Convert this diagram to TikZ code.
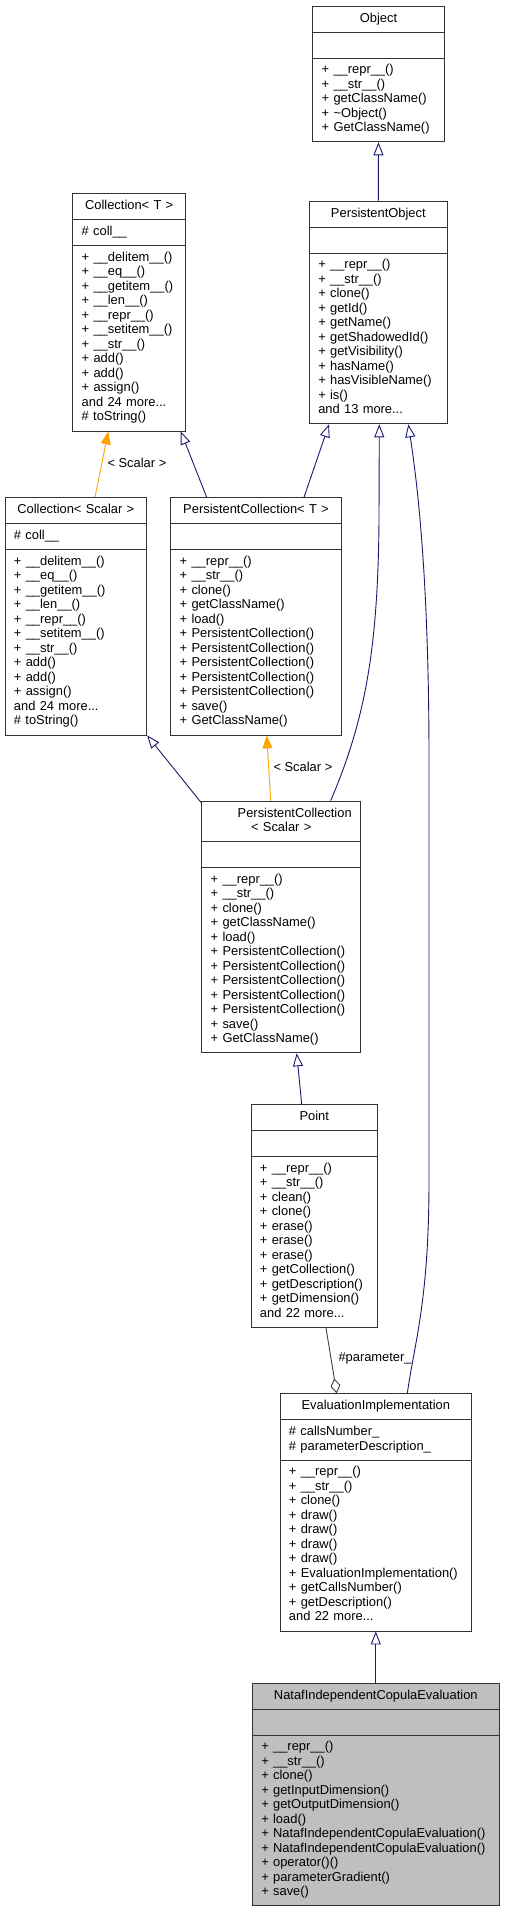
\documentclass[tikz,border=0pt]{standalone}
\usepackage{fontspec}
\setmainfont{Liberation Sans}
\usepackage{tikz}
\usetikzlibrary{arrows.meta,shapes.multipart}

\definecolor{navyline}{HTML}{191970}
\definecolor{tmplline}{HTML}{FFA500}
\definecolor{aggrline}{HTML}{404040}

\newcommand{\classfont}{\fontsize{12.9}{14.5}\selectfont}
\newcommand{\cpart}[1]{\strut#1\strut}
\newcommand{\ctitle}[1]{\hspace*{\fill}#1\hspace*{\fill}}
\newcommand{\dund}[1]{\_\_#1\_\_()}

\tikzset{
    cls/.style={rectangle split, rectangle split parts=3, draw=black!80,
        line width=0.9pt, fill=white, text width=#1, align=left, inner xsep=9pt,
        inner ysep=5.25pt, anchor=north, font=\classfont},
    inherit/.style={draw=navyline, line width=0.9pt, arrows={Triangle[open,length=13pt,width=10pt]-}},
    tmpl/.style={draw=tmplline, line width=0.9pt, arrows={Triangle[length=13pt,width=10pt]-}},
    aggr/.style={draw=aggrline, line width=0.9pt, arrows={-Diamond[open,length=15pt,width=10pt]}},
    lbl/.style={anchor=west, inner sep=0pt, font=\classfont}
}

\begin{document}
\begin{tikzpicture}[x=1pt,y=-1pt]
    \useasboundingbox (0,0) rectangle (504,1912);

    % Draw the base classes
    \node[cls=113.6pt] (obj) at (378.5,5.7) {\cpart{\ctitle{Object}}
        \nodepart{two}\cpart{}
        \nodepart{three}\cpart{+ \dund{repr}\\+ \dund{str}\\+ getClassName()\\+ \textasciitilde Object()\\+ GetClassName()}};
    \node[cls=120pt] (pobj) at (378.3,200.7) {\cpart{\ctitle{PersistentObject}}
        \nodepart{two}\cpart{}
        \nodepart{three}\cpart{+ \dund{repr}\\+ \dund{str}\\+ clone()\\+ getId()\\+ getName()\\+ getShadowedId()\\+ getVisibility()\\+ hasName()\\+ hasVisibleName()\\+ is()\\and 13 more...}};
    \node[cls=95pt] (colT) at (129.2,193.3) {\cpart{\ctitle{Collection< T >}}
        \nodepart{two}\cpart{\# coll\_\_}
        \nodepart{three}\cpart{+ \dund{delitem}\\+ \dund{eq}\\+ \dund{getitem}\\+ \dund{len}\\+ \dund{repr}\\+ \dund{setitem}\\+ \dund{str}\\+ add()\\+ add()\\+ assign()\\and 24 more...\\\# toString()}};

    % Draw the collections
    \node[cls=123.7pt] (colS) at (75.8,497.3) {\cpart{\ctitle{Collection< Scalar >}}
        \nodepart{two}\cpart{\# coll\_\_}
        \nodepart{three}\cpart{+ \dund{delitem}\\+ \dund{eq}\\+ \dund{getitem}\\+ \dund{len}\\+ \dund{repr}\\+ \dund{setitem}\\+ \dund{str}\\+ add()\\+ add()\\+ assign()\\and 24 more...\\\# toString()}};
    \node[cls=152.6pt] (pcolT) at (256,497.3) {\cpart{\ctitle{PersistentCollection< T >}}
        \nodepart{two}\cpart{}
        \nodepart{three}\cpart{+ \dund{repr}\\+ \dund{str}\\+ clone()\\+ getClassName()\\+ load()\\+ PersistentCollection()\\+ PersistentCollection()\\+ PersistentCollection()\\+ PersistentCollection()\\+ PersistentCollection()\\+ save()\\+ GetClassName()}};
    \node[cls=141pt] (pcolS) at (281.2,800.7) {\cpart{\ctitle{PersistentCollection}\\\ctitle{< Scalar >}}
        \nodepart{two}\cpart{}
        \nodepart{three}\cpart{+ \dund{repr}\\+ \dund{str}\\+ clone()\\+ getClassName()\\+ load()\\+ PersistentCollection()\\+ PersistentCollection()\\+ PersistentCollection()\\+ PersistentCollection()\\+ PersistentCollection()\\+ save()\\+ GetClassName()}};

    % Draw the derived classes
    \node[cls=108.7pt] (point) at (314.3,1104.3) {\cpart{\ctitle{Point}}
        \nodepart{two}\cpart{}
        \nodepart{three}\cpart{+ \dund{repr}\\+ \dund{str}\\+ clean()\\+ clone()\\+ erase()\\+ erase()\\+ erase()\\+ getCollection()\\+ getDescription()\\+ getDimension()\\and 22 more...}};
    \node[cls=173.7pt] (evimp) at (375.8,1393.3) {\cpart{\ctitle{EvaluationImplementation}}
        \nodepart{two}\cpart{\# callsNumber\_\\\# parameterDescription\_}
        \nodepart{three}\cpart{+ \dund{repr}\\+ \dund{str}\\+ clone()\\+ draw()\\+ draw()\\+ draw()\\+ draw()\\+ EvaluationImplementation()\\+ getCallsNumber()\\+ getDescription()\\and 22 more...}};
    \node[cls=229pt, fill=black!25] (nataf) at (375.8,1682.7) {\cpart{\ctitle{NatafIndependentCopulaEvaluation}}
        \nodepart{two}\cpart{}
        \nodepart{three}\cpart{+ \dund{repr}\\+ \dund{str}\\+ clone()\\+ getInputDimension()\\+ getOutputDimension()\\+ load()\\+ NatafIndependentCopulaEvaluation()\\+ NatafIndependentCopulaEvaluation()\\+ operator()()\\+ parameterGradient()\\+ save()}};

    % Draw inheritance arrows
    \draw[inherit] (obj.south) -- (pobj.north);
    \draw[inherit] ([xshift=51.5pt]colT.south) -- ([xshift=-49.3pt]pcolT.north);
    \draw[inherit] ([xshift=-49.3pt]pobj.south) -- ([xshift=48pt]pcolT.north);
    \draw[inherit] ([xshift=1pt]pobj.south) -- (379,520) .. controls (378,650) and (365,720) .. ([xshift=49.5pt]pcolS.north);
    \draw[inherit] ([xshift=30pt]pobj.south) .. controls (420,500) and (429,600) .. (429,760)
        -- (429,1180) .. controls (429,1300) and (415,1340) .. ([xshift=31.5pt]evimp.north);
    \draw[inherit] (colS.south east) -- ([yshift=-2pt]pcolS.north west);
    \draw[inherit] ([xshift=15.5pt]pcolS.south) -- ([xshift=-12.6pt]point.north);
    \draw[inherit] (evimp.south) -- (nataf.north);

    % Draw template arrows
    \draw[tmpl] ([xshift=-20.9pt]colT.south) -- ([xshift=19.2pt]colS.north);
    \draw[tmpl] ([xshift=10.7pt]pcolT.south) -- ([xshift=-10.5pt]pcolS.north);
    \node[lbl] (scalarA) at (107.3,462.7) {< Scalar >};
    \node[lbl] (scalarB) at (273.3,766.7) {< Scalar >};

    % Draw aggregation
    \draw[aggr] ([xshift=11.7pt]point.south) -- ([xshift=-39.1pt]evimp.north);
    \node[lbl] (param) at (338.3,1358.3) {\#parameter\_};
\end{tikzpicture}
\end{document}
